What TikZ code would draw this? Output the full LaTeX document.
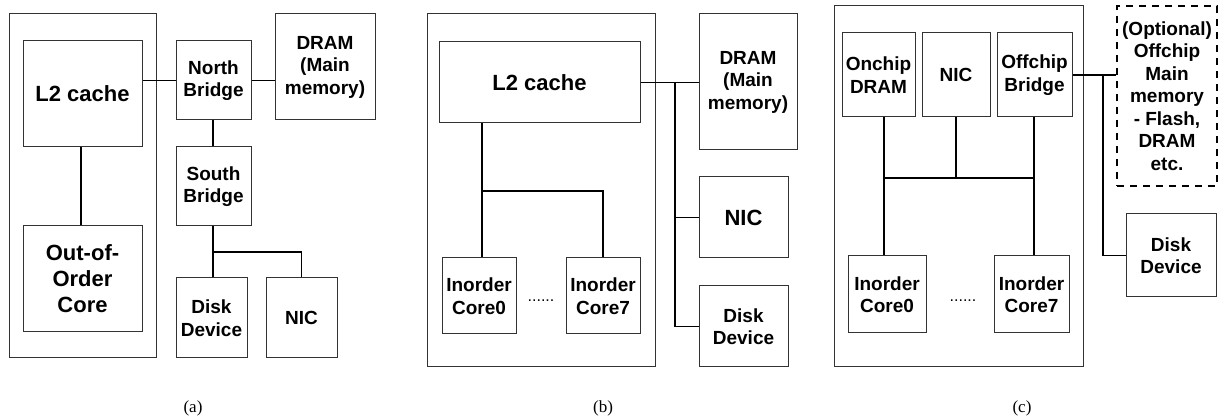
\documentclass[tikz,border=0pt]{standalone}
\usepackage{fontspec}
\newfontfamily\arialfont{Liberation Sans}
\newfontfamily\romanfont{Liberation Serif}

\tikzset{
  blocco/.style={draw=black!80, line width=1pt, align=center, inner sep=0pt,
    font=\arialfont\bfseries\fontsize{19}{22.5}\selectfont},
  grande/.style={font=\arialfont\bfseries\fontsize{22}{26}\selectfont},
  piccolo/.style={},
  tratteggio/.style={draw=black, line width=1.5pt, dash pattern=on 7pt off 6pt},
  filo/.style={line width=1.8pt, black},
  puntini/.style={font=\arialfont\fontsize{16}{18}\selectfont, inner sep=0pt},
  didascalia/.style={font=\romanfont\fontsize{17}{20}\selectfont}
}

\begin{document}
\begin{tikzpicture}[x=1pt,y=-1pt]
  \useasboundingbox (0,0) rectangle (1224,419);

  % Contenitori
  \foreach \nome/\px/\py/\w/\h in {a-chip/82.5/186/147/344, b-chip/541/190.5/228/353, c-chip/958.5/186.5/249/361} {
    \node[blocco, minimum width=\w pt, minimum height=\h pt] (\nome) at (\px,\py) {};
  }

  % Blocchi
  \foreach \nome/\px/\py/\w/\h/\stile/\testo in {
      a-l2/82.5/94/119/106/grande/{L2 cache},
      a-core/82.5/279/119/106/grande/{Out-of-\\Order\\Core},
      a-nb/213.5/80.5/75/79/piccolo/{North\\Bridge},
      a-dram/325/67/100/106/piccolo/{DRAM\\(Main\\memory)},
      a-sb/213.5/186.5/75/79/piccolo/{South\\Bridge},
      a-disk/211.5/318/71/80/piccolo/{Disk\\Device},
      a-nic/301.5/318/71/80/piccolo/{NIC},
      b-l2/539.5/82.5/201/81/grande/{L2 cache},
      b-c0/479/296/74/76/piccolo/{Inorder\\Core0},
      b-c7/603/296/74/76/piccolo/{Inorder\\Core7},
      b-dram/748/82/98/136/piccolo/{DRAM\\(Main\\memory)},
      b-nic/743.5/217.5/89/81/grande/{NIC},
      b-disk/743.5/326.5/89/81/piccolo/{Disk\\Device},
      c-dram/878.5/75/73/84/piccolo/{Onchip\\DRAM},
      c-nic/956/75/68/84/piccolo/{NIC},
      c-bridge/1034.5/75/75/84/piccolo/{Offchip\\Bridge},
      c-c0/887/294.5/78/77/piccolo/{Inorder\\Core0},
      c-c7/1031.5/294.5/75/77/piccolo/{Inorder\\Core7},
      c-disk/1171/255.5/90/83/piccolo/{Disk\\Device}} {
    \node[blocco, \stile, minimum width=\w pt, minimum height=\h pt] (\nome) at (\px,\py) {\testo};
  }
  \node[blocco, tratteggio, minimum width=100pt, minimum height=180pt] (c-mem) at (1167,96)
    {(Optional)\\Offchip\\Main\\memory\\- Flash,\\DRAM\\etc.};
  \node[puntini] (b-dots) at (541,301) {......};
  \node[puntini] (c-dots) at (963,301) {......};

  % Collegamenti (a)
  \draw[filo] (a-nb.west) -- (a-nb.west -| a-l2.east);
  \draw[filo] (a-nb.east) -- (a-nb.east -| a-dram.west);
  \coordinate (a-asse) at (81,0);
  \draw[filo] (a-asse |- a-l2.south) -- (a-asse |- a-core.north);
  \coordinate (a-bus) at (213,252);
  \draw[filo] (a-bus |- a-nb.south) -- (a-bus |- a-sb.north);
  \draw[filo] (a-bus |- a-sb.south) -- (a-bus |- a-disk.north);
  \draw[filo] (a-bus) -| (a-nic.north);

  % Collegamenti (b)
  \draw[filo] (b-l2.east) -- (b-l2.east -| b-dram.west);
  \coordinate (b-bus) at (675,0);
  \draw[filo] (b-bus |- b-l2.east) |- (b-disk.west);
  \draw[filo] (b-bus |- b-nic.west) -- (b-nic.west);
  \coordinate (b-ramo) at (482,191);
  \draw[filo] (b-ramo |- b-l2.south) -- (b-ramo |- b-c0.north);
  \draw[filo] (b-ramo) -| (b-c7.north);

  % Collegamenti (c)
  \coordinate (c-ramo) at (884,178);
  \coordinate (c-destra) at (1034,178);
  \draw[filo] (c-ramo |- c-dram.south) -- (c-ramo |- c-c0.north);
  \draw[filo] (c-ramo) -- (c-destra);
  \draw[filo] (c-nic.south) -- (c-nic.south |- c-ramo);
  \draw[filo] (c-destra |- c-bridge.south) -- (c-destra |- c-c7.north);
  \draw[filo] (c-bridge.east) -- (c-bridge.east -| c-mem.west);
  \coordinate (c-bus) at (1103,0);
  \draw[filo] (c-bus |- c-bridge.east) |- (c-disk.west);

  % Didascalie
  \node[didascalia] (cap-a) at (193,408) {(a)};
  \node[didascalia] (cap-b) at (603,408) {(b)};
  \node[didascalia] (cap-c) at (1022,408) {(c)};
\end{tikzpicture}
\end{document}
